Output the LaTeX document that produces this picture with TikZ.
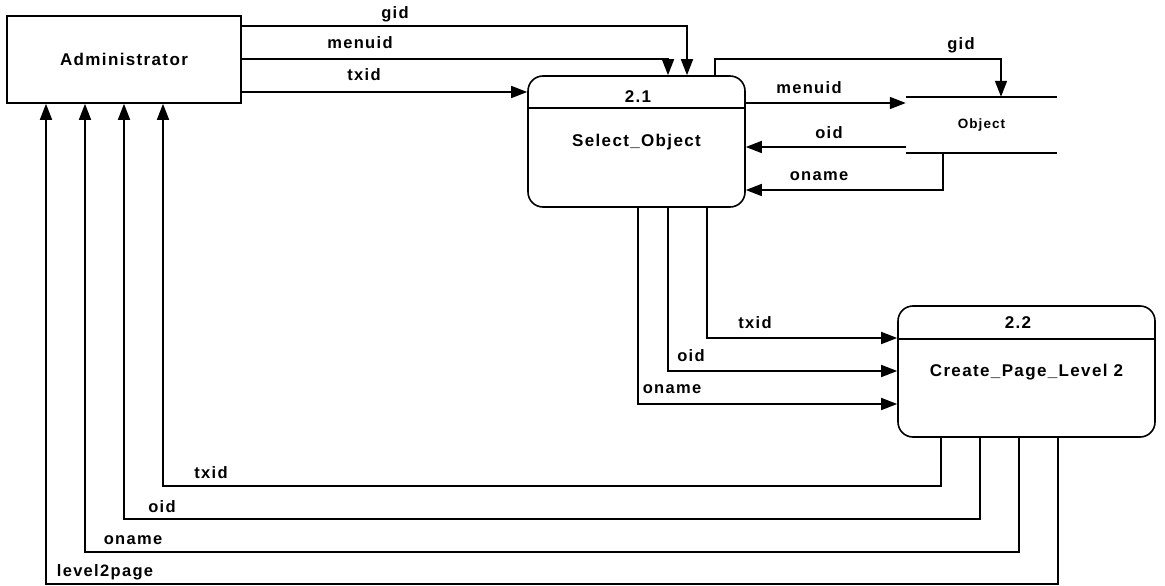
\documentclass[tikz,border=0pt]{standalone}
\usepackage{fontspec}
\setmainfont{Liberation Sans}
\newfontfamily\labfont[LetterSpace=8]{Liberation Sans}
\usetikzlibrary{arrows.meta}
\begin{document}
\begin{tikzpicture}[x=1pt,y=-1pt,
  wire/.style={draw, line width=1.6pt},
  flow/.style={draw, line width=1.6pt, -{Triangle[length=16pt,width=12pt]}},
  lab/.style={inner sep=0pt, font=\labfont\bfseries\fontsize{16.5}{18}\selectfont},
  extbox/.style={draw, line width=1.6pt, rectangle, minimum width=234pt, minimum height=87pt, inner sep=0pt},
  procbox/.style={draw, line width=1.6pt, rectangle, rounded corners=15pt, minimum width=#1, minimum height=131pt, inner sep=0pt},
  ntext/.style={inner sep=0pt, font=\labfont\bfseries\fontsize{17}{19}\selectfont},
  storebox/.style={draw=none, minimum width=151pt, minimum height=56pt, inner sep=0pt, font=\labfont\bfseries\fontsize{13.5}{15}\selectfont}
]
\useasboundingbox (0,0) rectangle (1165,586);

% nodes
\node[extbox, ntext] (admin) at (124,59.5) {Administrator};
\node[procbox=217pt] (sel) at (636.5,141.5) {};
\node[ntext] (selid) at (638,97) {2.1};
\node[ntext] (selname) at (636.5,142) {Select\_Object};
\draw[wire] (sel.west |- 0,108) -- (sel.east |- 0,108);

\node[storebox] (store) at (981.5,125) {Object};
\draw[wire] (store.north west) -- (store.north east);
\draw[wire] (store.south west) -- (store.south east);

\node[procbox=257pt] (cre) at (1026.5,371.5) {};
\node[ntext] (creid) at (1018,323) {2.2};
\node[ntext] (crename) at (1026.5,372) {Create\_Page\_Level 2};
\draw[wire] (cre.west |- 0,339) -- (cre.east |- 0,339);

% Administrator -> Select_Object
\draw[flow] (admin.east |- 0,26) -| (sel.north -| 687,0);
\draw[flow] (admin.east |- 0,59) -| (sel.north -| 668,0);
\draw[flow] (admin.east |- 0,92) -- (sel.west |- 0,92);
\node[lab] (l1) at (395,14) {gid};
\node[lab] (l2) at (360,43) {menuid};
\node[lab] (l3) at (364,75) {txid};

% Select_Object <-> Object
\draw[flow] (sel.north -| 715,0) -- (715,59) -| (store.north -| 1001,0);
\draw[flow] (sel.east |- 0,103) -- (store.west |- 0,103);
\draw[flow] (store.west |- 0,147) -- (sel.east |- 0,147);
\draw[flow] (store.south -| 943,0) |- (sel.east |- 0,190);
\node[lab] (l4) at (961,45) {gid};
\node[lab] (l5) at (809,88) {menuid};
\node[lab] (l6) at (829,133) {oid};
\node[lab] (l7) at (819,176) {oname};

% Select_Object -> Create_Page_Level 2
\draw[flow] (sel.south -| 707,0) |- (cre.west |- 0,338);
\draw[flow] (sel.south -| 668,0) |- (cre.west |- 0,371);
\draw[flow] (sel.south -| 638,0) |- (cre.west |- 0,404);
\node[lab] (l8) at (755,323) {txid};
\node[lab] (l9) at (691,356) {oid};
\node[lab] (l10) at (672,389) {oname};

% Create_Page_Level 2 -> Administrator
\draw[flow] (cre.south -| 941,0) |- (163,486) -- (admin.south -| 163,0);
\draw[flow] (cre.south -| 980,0) |- (124,519) -- (admin.south -| 124,0);
\draw[flow] (cre.south -| 1019,0) |- (85,552) -- (admin.south -| 85,0);
\draw[flow] (cre.south -| 1058,0) |- (46,584) -- (admin.south -| 46,0);
\node[lab] (l11) at (211,473) {txid};
\node[lab] (l12) at (162,507) {oid};
\node[lab] (l13) at (133,540) {oname};
\node[lab] (l14) at (105,572) {level2page};
\end{tikzpicture}
\end{document}
